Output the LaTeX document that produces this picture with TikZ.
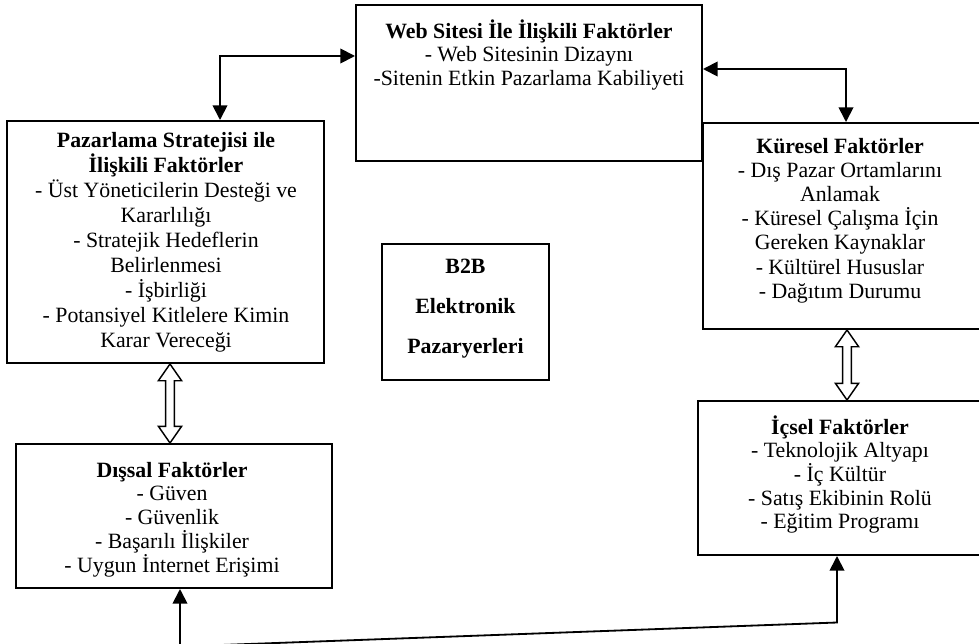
\documentclass[tikz,border=0pt]{standalone}
\usepackage{fontspec}
\setmainfont{Liberation Serif}
\usetikzlibrary{arrows.meta,calc,fit}
\newcommand\hollowarrow[2]{%
  \draw[hollow] let \p1=(#1), \p2=(#2) in
    (\x1,\y1) -- (\x1+6.4pt,\y1-9.2pt) -- (\x1+2.4pt,\y1-9.2pt) --
    (\x1+2.4pt,\y2+9.2pt) -- (\x1+6.4pt,\y2+9.2pt) -- (\x1,\y2) --
    (\x1-6.4pt,\y2+9.2pt) -- (\x1-2.4pt,\y2+9.2pt) --
    (\x1-2.4pt,\y1-9.2pt) -- (\x1-6.4pt,\y1-9.2pt) -- cycle;}
\begin{document}
\begin{tikzpicture}[x=0.55pt,y=-0.55pt,
  box/.style={draw,line width=1.1pt,inner sep=0pt,rectangle},
  txt/.style={align=center,inner sep=0pt,font=\fontsize{12}{#1}\selectfont},
  txt/.default=13.8,
  biarrow/.style={line width=1pt,{Triangle[length=8pt,width=8pt]}-{Triangle[length=8pt,width=8pt]}},
  hollow/.style={draw,line width=0.8pt,fill=white,line join=miter}]
\useasboundingbox (0,0) rectangle (979,643);
\clip (0,0) rectangle (979,643);
% boxes
\node[box,fit={(356,5)(702,161)}] (web) {};
\node[box,fit={(7,121)(324,363)}] (paz) {};
\node[box,fit={(703,123)(984,329)}] (kur) {};
\node[box,fit={(382,244)(549,380)}] (b2b) {};
\node[box,fit={(16,444)(332,588)}] (dis) {};
\node[box,fit={(698,401)(984,555)}] (ics) {};
% texts
\node[txt=12.7] (webt) at (529,55) {\textbf{Web Sitesi İle İlişkili Faktörler}\\- Web Sitesinin Dizaynı\\-Sitenin Etkin Pazarlama Kabiliyeti};
\node[txt=13.75] (pazt) at (166,242) {\textbf{Pazarlama Stratejisi ile}\\\textbf{İlişkili Faktörler}\\- Üst Yöneticilerin Desteği ve\\Kararlılığı\\- Stratejik Hedeflerin\\Belirlenmesi\\- İşbirliği\\- Potansiyel Kitlelere Kimin\\Karar Vereceği};
\node[txt=13.3] (kurt) at (840,220.5) {\textbf{Küresel Faktörler}\\- Dış Pazar Ortamlarını\\Anlamak\\- Küresel Çalışma İçin\\Gereken Kaynaklar\\- Kültürel Hususlar\\- Dağıtım Durumu};
\node[txt=22] (b2bt) at (465.5,309) {\textbf{B2B}\\\textbf{Elektronik}\\\textbf{Pazaryerleri}};
\node[txt=13.1] (dist) at (172,519.5) {\textbf{Dışsal Faktörler}\\- Güven\\- Güvenlik\\- Başarılı İlişkiler\\- Uygun İnternet Erişimi};
\node[txt=13.06] (icst) at (840,474.5) {\textbf{İçsel Faktörler}\\- Teknolojik Altyapı\\- İç Kültür\\- Satış Ekibinin Rolü\\- Eğitim Programı};
% helper coordinates
\coordinate (la) at (220,56);
\coordinate (ra) at (846,69);
\coordinate (h1) at (170,0);
\coordinate (h2) at (847,0);
\coordinate (b1) at (180,646.5);
\coordinate (b2) at (837,622.5);
% connectors
\draw[biarrow] (paz.north -| la) |- (web.west |- la);
\draw[biarrow] (web.east |- ra) -| (kur.north -| ra);
\draw[biarrow] (dis.south -| b1) -- (b1) -- (b2) -- (ics.south -| b2);
\hollowarrow{paz.south -| h1}{dis.north -| h1}
\hollowarrow{kur.south -| h2}{ics.north -| h2}
\end{tikzpicture}
\end{document}
